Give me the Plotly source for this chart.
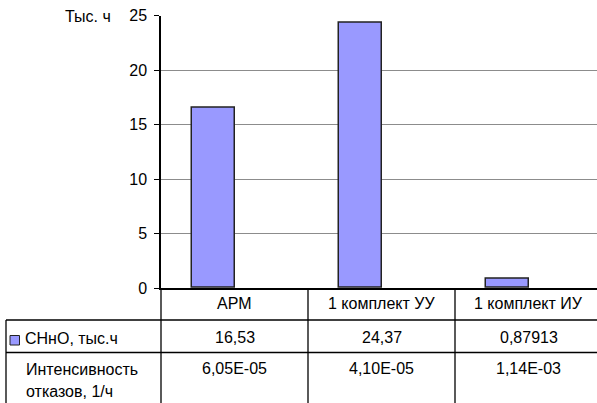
import plotly.graph_objects as go

categories = ["АРМ", "1 комплект УУ", "1 комплект ИУ"]
snno_values = [16.53, 24.37, 0.87913]
intensity_values = [6.05e-05, 4.10e-05, 1.14e-03]
series_name = "СНнО, тыс.ч"
row2_label = ["Интенсивность", "отказов, 1/ч"]
y_title = "Тыс. ч"
y_ticks = [0, 5, 10, 15, 20, 25]

W, H = 597, 403
FONT = "Liberation Sans, Arial, sans-serif"
FS = 16
BAR = "#9999FF"

def px_x(p):
    return p / W

def px_y(p):
    return (H - p) / H

x_axis = 161
y_top, y_zero, y_r1, y_r2 = 15.7, 288, 320, 352.5
cat_w = 147.0
x_range_max = -0.5 + (W - x_axis) / cat_w

fig = go.Figure()
fig.add_trace(go.Bar(
    x=categories, y=snno_values, name=series_name,
    marker=dict(color=BAR, line=dict(color="#222222", width=1.5)),
    width=0.29, offset=-0.29, showlegend=False,
))

shapes = []
line = dict(color="black", width=1.3)
shapes.append(dict(type="line", xref="paper", yref="paper", x0=px_x(6), x1=1,
                   y0=px_y(y_r1), y1=px_y(y_r1), line=line))
shapes.append(dict(type="line", xref="paper", yref="paper", x0=px_x(6), x1=1,
                   y0=px_y(y_r2), y1=px_y(y_r2), line=line))
shapes.append(dict(type="line", xref="paper", yref="paper", x0=px_x(6), x1=px_x(6),
                   y0=0, y1=px_y(y_r1), line=line))
shapes.append(dict(type="line", xref="paper", yref="paper", x0=px_x(x_axis), x1=px_x(x_axis),
                   y0=0, y1=px_y(y_zero), line=line))
for i in range(len(categories) - 1):
    shapes.append(dict(type="line", xref="x", yref="paper", x0=i + 0.5, x1=i + 0.5,
                       y0=0, y1=px_y(y_zero), line=line))
shapes.append(dict(type="rect", xref="paper", yref="paper", x0=px_x(10), x1=px_x(19.5),
                   y0=px_y(345), y1=px_y(335.5), fillcolor=BAR,
                   line=dict(color="#222222", width=1)))

ann = []
ann.append(dict(text=y_title, xref="paper", yref="paper", x=px_x(113), y=px_y(17),
                xanchor="right", yanchor="middle", showarrow=False))
for i, c in enumerate(categories):
    ann.append(dict(text=c, xref="x", yref="paper", x=i, y=px_y(303),
                    xanchor="center", yanchor="middle", showarrow=False))
    ann.append(dict(text=str(snno_values[i]).replace(".", ","), xref="x", yref="paper",
                    x=i, y=px_y(337), xanchor="center", yanchor="middle", showarrow=False))
    ann.append(dict(text=f"{intensity_values[i]:.2E}".replace(".", ","), xref="x", yref="paper",
                    x=i, y=px_y(368), xanchor="center", yanchor="middle", showarrow=False))
ann.append(dict(text=series_name, xref="paper", yref="paper", x=px_x(23), y=px_y(338),
                xanchor="left", yanchor="middle", showarrow=False))
ann.append(dict(text=row2_label[0], xref="paper", yref="paper", x=px_x(24), y=px_y(369),
                xanchor="left", yanchor="middle", showarrow=False))
ann.append(dict(text=row2_label[1], xref="paper", yref="paper", x=px_x(24), y=px_y(391),
                xanchor="left", yanchor="middle", showarrow=False))

fig.update_layout(
    width=W, height=H,
    margin=dict(l=0, r=0, t=0, b=0, pad=0, autoexpand=False),
    paper_bgcolor="white", plot_bgcolor="white",
    font=dict(family=FONT, size=FS, color="black"),
    shapes=shapes, annotations=ann,
    bargap=0,
    xaxis=dict(domain=[px_x(x_axis), 1], range=[-0.5, x_range_max], automargin=False,
               showticklabels=False, ticks="", showline=True, linecolor="black",
               linewidth=1.5, showgrid=False, zeroline=False, fixedrange=True),
    yaxis=dict(domain=[px_y(y_zero), px_y(y_top)], range=[0, 25], tickvals=y_ticks,
               automargin=False,
               ticks="outside", ticklen=5, tickcolor="black", tickwidth=1.3,
               showline=True, linecolor="black", linewidth=1.5,
               showgrid=True, gridcolor="#8c8c8c", gridwidth=1,
               zeroline=False, ticklabelstandoff=4, fixedrange=True),
)

fig.write_html(
    "out.html",
    config={"displayModeBar": False},
    post_script="document.body.style.margin='0';document.body.style.overflow='hidden';",
)
